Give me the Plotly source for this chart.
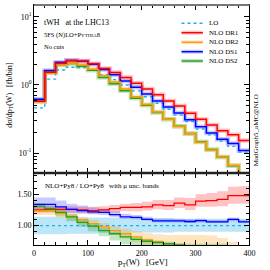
import plotly.graph_objects as go

# ---------------- data ----------------
edges = list(range(0, 420, 20))  # pT(W) bin edges [GeV]

# LO+Py8 distribution [fb/bin]
lo = [0.46, 1.22, 1.66, 1.82, 1.80, 1.66, 1.40, 1.20, 1.00, 0.82,
      0.67, 0.54, 0.44, 0.36, 0.29, 0.225, 0.185, 0.15, 0.125, 0.103]

# NLO+Py8 / LO+Py8 ratios (central)
r_dr1 = [1.25, 1.26, 1.26, 1.26, 1.25, 1.24, 1.25, 1.27, 1.29, 1.29,
         1.30, 1.33, 1.32, 1.36, 1.33, 1.39, 1.40, 1.42, 1.48, 1.48]
r_dr2 = [1.23, 1.23, 1.19, 1.15, 1.09, 1.03, 0.98, 0.92, 0.87, 0.82,
         0.77, 0.74, 0.71, 0.68, 0.66, 0.64, 0.60, 0.58, 0.53, 0.44]
r_ds1 = [1.34, 1.34, 1.30, 1.26, 1.24, 1.22, 1.21, 1.175, 1.14, 1.13,
         1.10, 1.075, 1.075, 1.075, 1.065, 1.08, 1.06, 1.06, 1.10, 1.06]
r_ds2 = [1.31, 1.27, 1.21, 1.14, 1.05, 0.99, 0.92, 0.87, 0.82, 0.78,
         0.75, 0.73, 0.71, 0.69, 0.67, 0.65, 0.61, 0.58, 0.52, 0.44]

# scale-uncertainty bands (ratio units)
lo_up = [1.14, 1.14, 1.14, 1.14, 1.13, 1.13, 1.13, 1.13, 1.12, 1.12,
         1.12, 1.12, 1.12, 1.11, 1.11, 1.11, 1.11, 1.11, 1.11, 1.11]
lo_dn = [0.86, 0.86, 0.86, 0.87, 0.87, 0.87, 0.88, 0.88, 0.88, 0.89,
         0.89, 0.89, 0.89, 0.90, 0.90, 0.90, 0.90, 0.90, 0.90, 0.90]
dr1_up = [1.31, 1.31, 1.31, 1.31, 1.30, 1.30, 1.31, 1.33, 1.35, 1.36,
          1.38, 1.41, 1.41, 1.45, 1.44, 1.50, 1.52, 1.55, 1.62, 1.63]
dr1_dn = [1.21, 1.21, 1.21, 1.21, 1.20, 1.19, 1.20, 1.21, 1.23, 1.23,
          1.24, 1.26, 1.25, 1.28, 1.25, 1.30, 1.30, 1.31, 1.35, 1.35]
dr2_up = [1.27, 1.27, 1.24, 1.20, 1.14, 1.09, 1.04, 0.99, 0.95, 0.91,
          0.88, 0.86, 0.85, 0.85, 0.85, 0.85, 0.84, 0.80, 0.74, 0.62]
dr2_dn = [1.17, 1.17, 1.13, 1.08, 1.02, 0.96, 0.91, 0.85, 0.79, 0.74,
          0.69, 0.65, 0.61, 0.57, 0.54, 0.51, 0.47, 0.45, 0.40, 0.33]
ds1_up = [1.45, 1.45, 1.40, 1.35, 1.32, 1.29, 1.27, 1.23, 1.19, 1.17,
          1.14, 1.11, 1.11, 1.11, 1.10, 1.11, 1.09, 1.09, 1.13, 1.09]
ds1_dn = [1.27, 1.27, 1.24, 1.20, 1.19, 1.18, 1.17, 1.14, 1.11, 1.10,
          1.08, 1.05, 1.05, 1.05, 1.04, 1.05, 1.04, 1.04, 1.07, 1.04]
ds2_up = [1.36, 1.32, 1.26, 1.19, 1.10, 1.03, 0.96, 0.90, 0.86, 0.82,
          0.79, 0.76, 0.74, 0.72, 0.71, 0.71, 0.71, 0.71, 0.67, 0.60]
ds2_dn = [1.27, 1.22, 1.15, 1.07, 0.98, 0.91, 0.83, 0.76, 0.70, 0.65,
          0.61, 0.58, 0.55, 0.52, 0.50, 0.48, 0.45, 0.43, 0.38, 0.31]

x_ticks = [0, 100, 200, 300, 400]
ratio_ticks = [1.0, 1.5]
ratio_ticktext = ["1.00", "1.50"]
top_ticks = [0.1, 1, 10]
top_ticktext = ["10<sup>-1</sup>", "10<sup>0</sup>", "10<sup>1</sup>"]

series = [
    ("NLO DR1", r_dr1, dr1_up, dr1_dn, "#ff0000", "rgba(255,40,40,0.28)"),
    ("NLO DR2", r_dr2, dr2_up, dr2_dn, "#ff9900", "rgba(255,153,0,0.25)"),
    ("NLO DS1", r_ds1, ds1_up, ds1_dn, "#0000ff", "rgba(40,40,255,0.25)"),
    ("NLO DS2", r_ds2, ds2_up, ds2_dn, "#22a022", "rgba(40,170,40,0.28)"),
]
LO_COLOR = "#1ab0e8"
LO_BAND = "rgba(80,190,235,0.38)"

# ---------------- figure ----------------
W, H = 270, 270
FONT = "Liberation Serif"


def px(x):
    return x / W


def py(y):
    return 1 - y / H


def step(v):
    return list(v) + [v[-1]]


fig = go.Figure()


def band(lo_v, hi_v, color, xa, ya):
    fig.add_trace(go.Scatter(x=edges, y=step(lo_v), mode="lines",
                             line=dict(width=0, shape="hv"), xaxis=xa, yaxis=ya,
                             showlegend=False, hoverinfo="skip"))
    fig.add_trace(go.Scatter(x=edges, y=step(hi_v), mode="lines",
                             line=dict(width=0, shape="hv"), fill="tonexty",
                             fillcolor=color, xaxis=xa, yaxis=ya,
                             showlegend=False, hoverinfo="skip"))


# ratio panel (x, y)
band(lo_dn, lo_up, LO_BAND, "x", "y")
for name, r, up, dn, col, bcol in series:
    band(dn, up, bcol, "x", "y")
fig.add_trace(go.Scatter(x=edges, y=step([1.0] * len(lo)), mode="lines",
                         line=dict(color=LO_COLOR, width=1.4, dash="dot", shape="hv"),
                         xaxis="x", yaxis="y", showlegend=False))
for name, r, up, dn, col, bcol in series:
    fig.add_trace(go.Scatter(x=edges, y=step(r), mode="lines",
                             line=dict(color=col, width=1.3, shape="hv"),
                             xaxis="x", yaxis="y", showlegend=False))

# top panel (x2, y2): halo + line for each NLO curve
for name, r, up, dn, col, bcol in reversed(series):
    fig.add_trace(go.Scatter(x=edges, y=step([a * b for a, b in zip(lo, r)]),
                             mode="lines", line=dict(color=bcol, width=4.5, shape="hv"),
                             xaxis="x2", yaxis="y2", showlegend=False))
fig.add_trace(go.Scatter(x=edges, y=step(lo), mode="lines",
                         line=dict(color=LO_COLOR, width=1.4, dash="dot", shape="hv"),
                         xaxis="x2", yaxis="y2", showlegend=False))
for name, r, up, dn, col, bcol in reversed(series):
    fig.add_trace(go.Scatter(x=edges, y=step([a * b for a, b in zip(lo, r)]),
                             mode="lines", line=dict(color=col, width=1.5, shape="hv"),
                             xaxis="x2", yaxis="y2", showlegend=False))

xdom = [px(33), px(255)]
ydom_ratio = [py(245), py(173)]
ydom_top = [py(173), py(5)]

axis_common = dict(showline=True, linecolor="black", linewidth=1, mirror="allticks",
                   ticks="inside", tickcolor="black", ticklen=5, tickwidth=1,
                   showgrid=False, zeroline=False,
                   tickfont=dict(family=FONT, size=8, color="black"))

fig.update_layout(
    width=W, height=H,
    margin=dict(l=0, r=0, t=0, b=0),
    paper_bgcolor="white", plot_bgcolor="white",
    showlegend=False,
    xaxis=dict(domain=xdom, range=[0, 400], anchor="y", tickvals=x_ticks,
               minor=dict(dtick=20, tick0=0, ticks="inside", ticklen=3,
                          tickcolor="black"),
               **axis_common),
    yaxis=dict(domain=ydom_ratio, range=[0.69, 1.84], anchor="x",
               tickvals=ratio_ticks, ticktext=ratio_ticktext,
               minor=dict(dtick=0.1, tick0=0.0, ticks="inside", ticklen=3,
                          tickcolor="black"),
               **axis_common),
    xaxis2=dict(domain=xdom, range=[0, 400], anchor="y2", matches="x",
                tickvals=x_ticks, showticklabels=False,
                minor=dict(dtick=20, tick0=0, ticks="inside", ticklen=3,
                           tickcolor="black"),
                **axis_common),
    yaxis2=dict(domain=ydom_top, type="log", range=[-1.294, 1.176], anchor="x2",
                tickvals=top_ticks, ticktext=top_ticktext,
                minor=dict(tickvals=[k * 10 ** e for e in (-2, -1, 0, 1) for k in range(2, 10)],
                           ticks="inside", ticklen=3, tickcolor="black"),
                **axis_common),
)

# separator between panels and top frame
fig.add_shape(type="line", xref="paper", yref="paper", x0=xdom[0], x1=xdom[1],
              y0=py(173), y1=py(173), line=dict(color="#222", width=2.5))
fig.add_shape(type="line", xref="paper", yref="paper", x0=xdom[0], x1=xdom[1],
              y0=py(5), y1=py(5), line=dict(color="#777", width=2))

# legend (custom)
legend_rows = [("LO", LO_COLOR, None, 23.3), ]
for (name, r, up, dn, col, bcol), yy in zip(series, [32.7, 42.3, 51.7, 61.0]):
    legend_rows.append((name, col, bcol, yy))
for name, col, bcol, yy in legend_rows:
    if bcol is None:
        fig.add_shape(type="line", xref="paper", yref="paper", x0=px(185), x1=px(207),
                      y0=py(yy), y1=py(yy), line=dict(color=col, width=1.4, dash="dot"))
    else:
        fig.add_shape(type="line", xref="paper", yref="paper", x0=px(185), x1=px(207),
                      y0=py(yy), y1=py(yy), line=dict(color=bcol, width=4))
        fig.add_shape(type="line", xref="paper", yref="paper", x0=px(185), x1=px(207),
                      y0=py(yy), y1=py(yy), line=dict(color=col, width=1.4))
    fig.add_annotation(xref="paper", yref="paper", x=px(211), y=py(yy), text=name,
                       showarrow=False, xanchor="left", yanchor="middle",
                       font=dict(family=FONT, size=7, color="black"))

# texts
def txt(x, y, s, size=7, xanchor="left", angle=0):
    fig.add_annotation(xref="paper", yref="paper", x=px(x), y=py(y), text=s,
                       showarrow=False, xanchor=xanchor, yanchor="middle",
                       textangle=angle, font=dict(family=FONT, size=size, color="black"))

txt(41, 22, "tWH&nbsp;&nbsp;&nbsp;at the LHC13", size=8)
txt(41, 34.5, "5FS (N)LO+P<span style='font-size:5px'>YTHIA</span>8", size=6.5)
txt(41, 46.7, "No cuts", size=6.5)
txt(42, 185.5, "NLO+Py8 / LO+Py8&nbsp;&nbsp;&nbsp;with μ unc. bands", size=7)
txt(8, 95, "dσ/dp<sub>T</sub>(W)&nbsp;&nbsp;&nbsp;[fb/bin]", size=8, xanchor="center", angle=-90)
txt(262, 130, "MadGraph5_aMC@NLO", size=7, xanchor="center", angle=-90)
txt(145, 262, "p<sub>T</sub>(W)&nbsp;&nbsp;&nbsp;[GeV]", size=8.5, xanchor="center")

fig.write_html("out.html", config={"displayModeBar": False, "staticPlot": True},
               post_script="document.body.style.margin='0';document.body.style.overflow='hidden';")
